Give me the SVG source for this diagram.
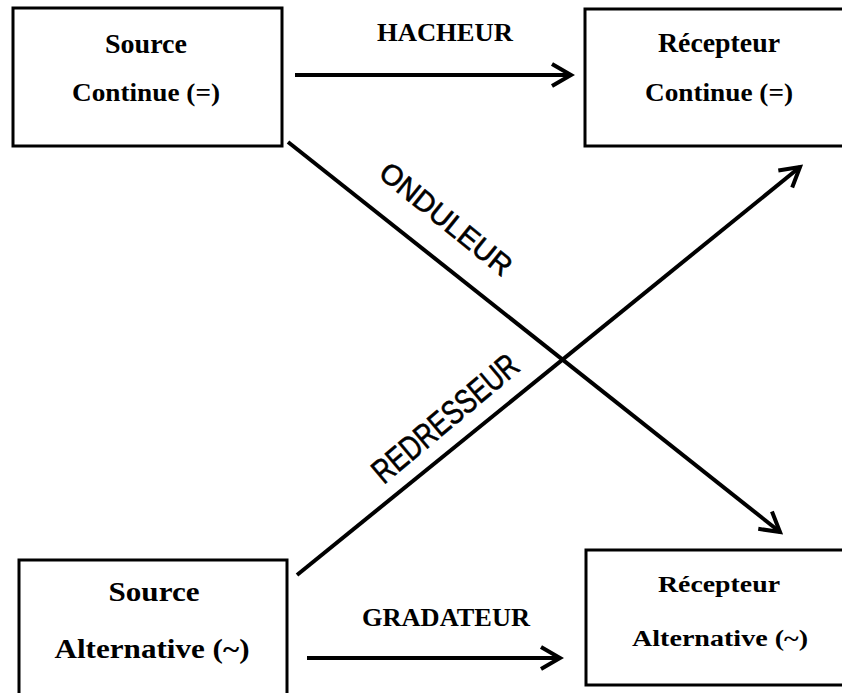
<svg xmlns="http://www.w3.org/2000/svg" width="842" height="693" viewBox="0 0 842 693">
<style>
.box{fill:#fff;stroke:#000;stroke-width:3}
.t{font-family:"Liberation Serif","Times New Roman",serif;font-weight:bold;fill:#000;text-anchor:middle}
.c{stroke:#000;stroke-width:4;fill:none}
.s{font-family:"Liberation Sans",Arial,sans-serif;fill:#000;stroke:#000;stroke-width:0.6;text-anchor:middle}
</style>
<defs>
<marker id="ah" viewBox="-24 -14 28 28" refX="0" refY="0" markerWidth="28" markerHeight="28" markerUnits="userSpaceOnUse" orient="auto">
<path d="M-19,-11 L0,0 L-19,11" fill="none" stroke="#000" stroke-width="4" stroke-linejoin="miter"/>
</marker>
</defs>
<rect width="842" height="693" fill="#fff"/>
<g id="source-continue">
<rect class="box" x="13" y="8" width="269" height="138"/>
<text class="t" x="146" y="53" font-size="27" textLength="82" lengthAdjust="spacingAndGlyphs">Source</text>
<text class="t" x="146" y="101" font-size="26" textLength="148" lengthAdjust="spacingAndGlyphs">Continue (=)</text>
</g>
<g id="recepteur-continue">
<rect class="box" x="585" y="9" width="260" height="137"/>
<text class="t" x="719" y="52" font-size="27" textLength="122" lengthAdjust="spacingAndGlyphs">Récepteur</text>
<text class="t" x="719" y="101" font-size="26" textLength="148" lengthAdjust="spacingAndGlyphs">Continue (=)</text>
</g>
<g id="source-alternative">
<rect class="box" x="19" y="560" width="268" height="140"/>
<text class="t" x="154" y="601" font-size="28" textLength="91" lengthAdjust="spacingAndGlyphs">Source</text>
<text class="t" x="152" y="658" font-size="28" textLength="195" lengthAdjust="spacingAndGlyphs">Alternative (~)</text>
</g>
<g id="recepteur-alternative">
<rect class="box" x="586" y="550" width="260" height="135"/>
<text class="t" x="719" y="592" font-size="23" textLength="122" lengthAdjust="spacingAndGlyphs">Récepteur</text>
<text class="t" x="720" y="646" font-size="23" textLength="176" lengthAdjust="spacingAndGlyphs">Alternative (~)</text>
</g>
<g id="connectors">
<line class="c" x1="295" y1="75" x2="571" y2="75" marker-end="url(#ah)"/>
<line class="c" x1="307" y1="658" x2="560" y2="658" marker-end="url(#ah)"/>
<line class="c" x1="288" y1="142" x2="780" y2="532" marker-end="url(#ah)"/>
<line class="c" x1="297" y1="575" x2="800" y2="167" marker-end="url(#ah)"/>
<text class="t" x="445" y="41" font-size="25" textLength="136" lengthAdjust="spacingAndGlyphs">HACHEUR</text>
<text class="t" x="446" y="626" font-size="25" textLength="168" lengthAdjust="spacingAndGlyphs">GRADATEUR</text>
<text class="s" transform="translate(446,219) rotate(39)" x="0" y="10" font-size="29" textLength="161" lengthAdjust="spacingAndGlyphs">ONDULEUR</text>
<text class="s" transform="translate(445,418) rotate(-40)" x="0" y="12" font-size="34" textLength="180" lengthAdjust="spacingAndGlyphs">REDRESSEUR</text>
</g>
</svg>
